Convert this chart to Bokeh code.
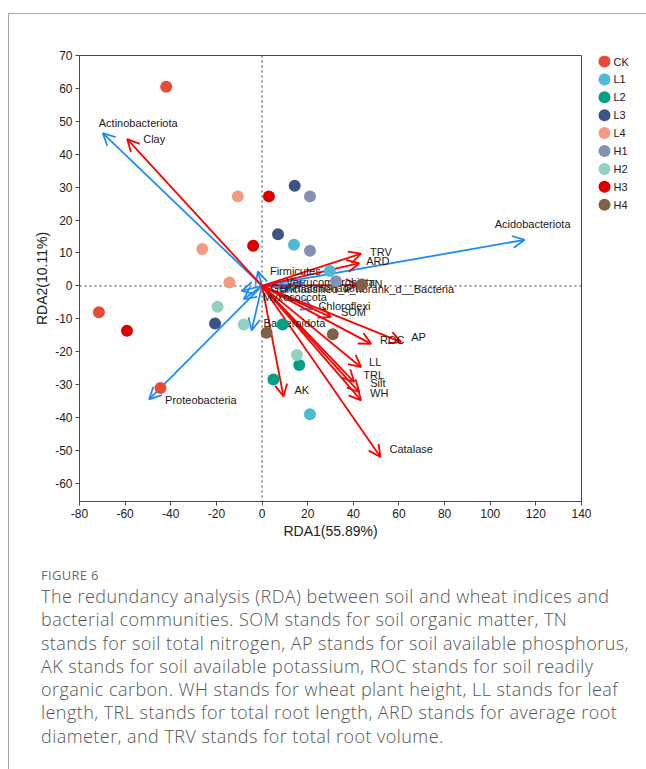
from bokeh.plotting import figure
from bokeh.models import (ColumnDataSource, Arrow, OpenHead, Span, FixedTicker,
                          PrintfTickFormatter, Div, Range1d)
from bokeh.layouts import column, row
from bokeh.core.properties import value
from bokeh.embed import file_html
from bokeh.resources import INLINE

# ---------------- data ----------------
groups = ["CK", "L1", "L2", "L3", "L4", "H1", "H2", "H3", "H4"]
group_colors = ["#E64B35", "#4DBBD5", "#00A087", "#3C5488", "#F39B7F",
                "#8491B4", "#91D1C2", "#DC0000", "#7E6148"]

# sample scores, three replicates per group
ck_rda1 = [-42.0, -71.5, -44.5]
ck_rda2 = [60.5, -8.0, -31.0]
l1_rda1 = [14.0, 29.7, 21.0]
l1_rda2 = [12.5, 4.5, -39.0]
l2_rda1 = [9.0, 16.3, 5.0]
l2_rda2 = [-11.7, -24.0, -28.4]
l3_rda1 = [14.3, 7.0, -20.6]
l3_rda2 = [30.4, 15.7, -11.4]
l4_rda1 = [-10.6, -26.2, -14.3]
l4_rda2 = [27.2, 11.2, 1.0]
h1_rda1 = [21.0, 21.0, 32.4]
h1_rda2 = [27.2, 10.7, 1.4]
h2_rda1 = [-19.5, -8.0, 15.3]
h2_rda2 = [-6.3, -11.7, -21.0]
h3_rda1 = [3.0, -3.9, -59.2]
h3_rda2 = [27.2, 12.2, -13.6]
h4_rda1 = [2.0, 31.0, 43.8]
h4_rda2 = [-14.2, -14.7, 0.4]

# environmental factors (red arrows)
env_names = ["Clay", "TRV", "ARD", "TN", "SOM", "ROC", "AP", "LL", "TRL",
             "Silt", "WH", "Catalase", "AK"]
env_rda1 = [-59.1, 43.4, 42.6, 42.0, 30.2, 47.8, 61.0, 43.4, 40.4,
            42.6, 43.4, 51.9, 9.4]
env_rda2 = [44.6, 9.8, 6.9, 0.3, -9.5, -17.6, -17.1, -24.7, -29.2,
            -32.3, -34.8, -52.0, -33.6]

# bacterial phyla (blue arrows)
bac_names = ["Actinobacteriota", "Acidobacteriota", "Proteobacteria",
             "Firmicutes", "Verrucomicrobiota",
             "unclassified_k_norank_d__Bacteria", "Gemmatimonadota",
             "Myxococcota", "Chloroflexi", "Bacteroidota"]
bac_rda1 = [-69.8, 115.1, -49.5, -1.8, 18.0, 12.0, -9.0, -8.0, 22.5, -4.6]
bac_rda2 = [46.4, 14.0, -34.5, 4.4, 0.8, -0.8, -1.5, -4.0, -7.0, -13.5]

x_ticks = [-80, -60, -40, -20, 0, 20, 40, 60, 80, 100, 120, 140]
y_ticks = [-60, -50, -40, -30, -20, -10, 0, 10, 20, 30, 40, 50, 60, 70]

# ---------------- styles / layout ----------------
# label offsets from arrow tip, in pixels (right, down)
env_dx = [16, 9, 7, 10, 10, 9, 10, 8, 9, 11, 9, 9, 11]
env_dy = [0, -2, -2, -1, -5, -4, -5, -5, -7, -9, -7, -8, -7]
bac_dx = [-4, -30, 16, 12, -17, -9, 29, 19, 5, 12]
bac_dy = [-10, -16, 1, 0, -1, 0, -3, -2, -3, -7]

X0, X1 = -80, 140
Y0, Y1 = -65.5, 70
FIG_H = 534
BL, BR, BT, BB = 70, 10, 41, 47
FW = 502
FIG_W = BL + FW + BR
LEG_W = 637 - FIG_W
fh = FIG_H - BT - BB
kx = FW / (X1 - X0)
ky = fh / (Y1 - Y0)

FONT = "Liberation Sans"

p = figure(width=FIG_W, height=FIG_H, x_range=(X0, X1), y_range=(Y0, Y1),
           output_backend="svg", toolbar_location=None,
           min_border_left=BL, min_border_right=BR,
           min_border_top=BT, min_border_bottom=BB)
p.grid.visible = False
p.outline_line_color = "#4a4a4a"
p.outline_line_width = 1
p.background_fill_color = "white"
p.border_fill_color = "white"

for ax, ticks in ((p.xaxis[0], x_ticks), (p.yaxis[0], y_ticks)):
    ax.ticker = FixedTicker(ticks=ticks)
    ax.formatter = PrintfTickFormatter(format="%d")
    ax.minor_tick_line_color = None
    ax.major_tick_in = 0
    ax.major_tick_out = 4
    ax.axis_line_color = "#4a4a4a"
    ax.major_tick_line_color = "#4a4a4a"
    ax.major_label_text_font = FONT
    ax.major_label_text_font_size = "12px"
    ax.major_label_text_color = "#222222"
    ax.major_label_standoff = 3
    ax.axis_label_text_font = FONT
    ax.axis_label_text_font_size = "14px"
    ax.axis_label_text_font_style = "normal"
    ax.axis_label_text_color = "#222222"
p.xaxis.axis_label = "RDA1(55.89%)"
p.yaxis.axis_label = "RDA2(10.11%)"
p.xaxis.axis_label_standoff = 2
p.yaxis.axis_label_standoff = 2

p.add_layout(Span(location=0, dimension="height", line_color="#777777",
                  line_dash="2 3", line_width=1.5, level="underlay"))
p.add_layout(Span(location=0, dimension="width", line_color="#777777",
                  line_dash="2 3", line_width=1.5, level="underlay"))

def arrow_layer(xs, ys, color):
    src = ColumnDataSource(dict(x0=[0.0] * len(xs), y0=[0.0] * len(xs), x1=xs, y1=ys))
    p.add_layout(Arrow(end=OpenHead(size=12, line_color=color, line_width=1.8),
                       x_start="x0", y_start="y0", x_end="x1", y_end="y1",
                       source=src, line_color=color, line_width=1.8))

arrow_layer(bac_rda1, bac_rda2, "#1E8CF5")
arrow_layer(env_rda1, env_rda2, "#FF0000")

lab_names = env_names + bac_names
lab_x = [x + dx / kx for x, dx in zip(env_rda1 + bac_rda1, env_dx + bac_dx)]
lab_y = [y - dy / ky for y, dy in zip(env_rda2 + bac_rda2, env_dy + bac_dy)]
tr = p.text(x=lab_x, y=lab_y, text=lab_names, text_font=value(FONT),
            text_font_size="11px", text_color="#1a1a1a",
            text_baseline="middle", text_align="left")
tr.level = "overlay"

all_x = [ck_rda1, l1_rda1, l2_rda1, l3_rda1, l4_rda1, h1_rda1, h2_rda1, h3_rda1, h4_rda1]
all_y = [ck_rda2, l1_rda2, l2_rda2, l3_rda2, l4_rda2, h1_rda2, h2_rda2, h3_rda2, h4_rda2]
for c, xs, ys in zip(group_colors, all_x, all_y):
    r = p.scatter(xs, ys, size=12, marker="circle", fill_color=c, line_color=None)
    r.level = "overlay"

# ---------------- legend panel (pixel coordinates inside the panel's frame) ----------------
lf = figure(width=LEG_W, height=FIG_H, x_range=Range1d(0, LEG_W),
            y_range=Range1d(fh, 0), output_backend="svg",
            toolbar_location=None, min_border=0)
lf.axis.visible = False
lf.grid.visible = False
lf.outline_line_color = None
lf.background_fill_color = "white"
lf.border_fill_color = "white"
leg_first, leg_step, leg_mx = 6, 17.9, 13
leg_y = [leg_first + i * leg_step for i in range(len(groups))]
lf.scatter([leg_mx] * len(groups), leg_y, size=12, marker="circle",
           fill_color=group_colors, line_color=None)
lf.text([leg_mx + 9] * len(groups), leg_y, text=groups, text_font=value(FONT),
        text_font_size="11px", text_color="#222222",
        text_baseline="middle", text_align="left")

caption_lines = [
    "The redundancy analysis (RDA) between soil and wheat indices and",
    "bacterial communities. SOM stands for soil organic matter, TN",
    "stands for soil total nitrogen, AP stands for soil available phosphorus,",
    "AK stands for soil available potassium, ROC stands for soil readily",
    "organic carbon. WH stands for wheat plant height, LL stands for leaf",
    "length, TRL stands for total root length, ARD stands for average root",
    "diameter, and TRV stands for total root volume.",
]
html = (
    "<div style=\"padding:14px 0 0 27px;font-family:'Open Sans',sans-serif;\">"
    "<div style=\"font-size:13px;line-height:16px;color:#6b6b6b;letter-spacing:0.3px;\">FIGURE 6</div>"
    "<div style=\"margin-top:2px;font-size:18px;line-height:23.3px;color:#555555;"
    "letter-spacing:0.45px;font-weight:300;white-space:nowrap;\">"
    + "<br>".join(caption_lines) + "</div></div>"
)
cap = Div(text=html, width=637, height=220)

layout = column(row(p, lf), cap, margin=(13, 0, 0, 8),
                styles={"border-left": "1px solid #a8a8a8",
                        "border-top": "1px solid #a8a8a8"})

open("out.html", "w").write(file_html(layout, INLINE))
